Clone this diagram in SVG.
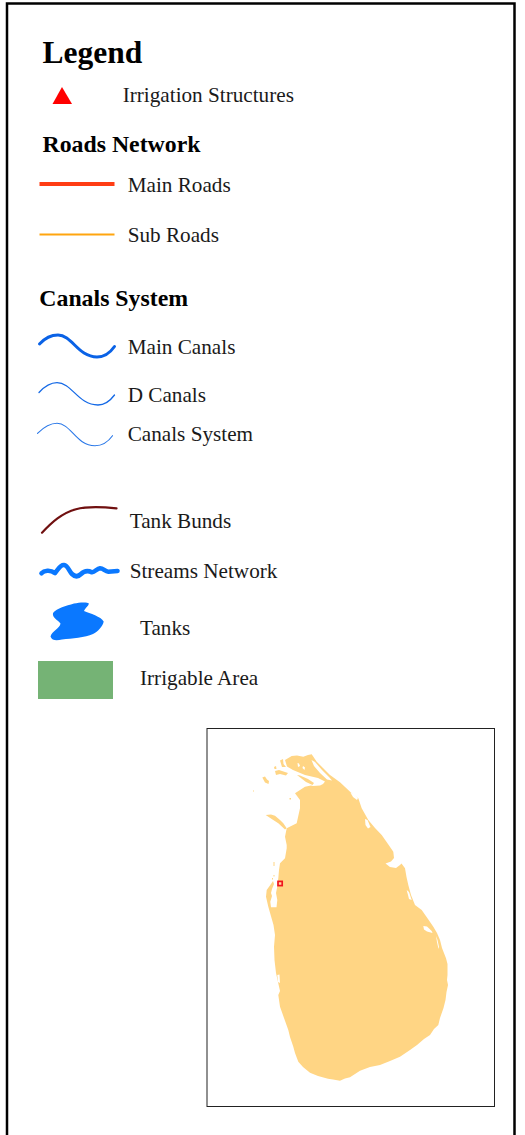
<svg xmlns="http://www.w3.org/2000/svg" width="525" height="1135" viewBox="0 0 525 1135">
<style>
text{font-family:"Liberation Serif","Times New Roman",serif;font-size:21.200px;fill:#1a1a1a}
.h{font-weight:bold;fill:#000;font-size:23.800px}
.l{fill:none;stroke-linecap:round;stroke-linejoin:round}
.land{fill:#ffd584}
.hole{fill:#fff}
</style>
<rect width="525" height="1135" fill="#fff"/>
<path d="M7 1136V3.500H514.500V1136" fill="none" stroke="#000" stroke-width="2.500"/>
<g id="title"><text class="h" x="42.500" y="63" style="font-size:31.500px">Legend</text></g>
<g id="irrigation-structures"><path d="M52.500 104L62 87L72 104Z" fill="#f00"/><text x="122.700" y="102">Irrigation Structures</text></g>
<g id="roads-heading"><text class="h" x="42.500" y="152">Roads Network</text></g>
<g id="connectors">
<path id="main-roads-line" class="l" style="stroke-linecap:butt" d="M39.500 184H114.500" stroke="#ff3d14" stroke-width="4"/>
<path id="sub-roads-line" class="l" style="stroke-linecap:butt" d="M39.500 234.500H114.500" stroke="#ffa50f" stroke-width="2"/>
<path id="main-canals-line" class="l" d="M39.500 344C45 338 52 335 58 335C72 335 78 357 97 357C104 357 110 353 114.500 346.500" stroke="#0a62e6" stroke-width="3"/>
<path id="d-canals-line" class="l" d="M39 392.500C45 386 51 382.700 57 382.700C72 382.700 78 405 98 405C105 405 110 401 114.500 395" stroke="#1469e6" stroke-width="1.300"/>
<path id="canals-system-line" class="l" d="M37.500 433.300C44 427 50 423.300 57 423.300C71 423.300 76 445.700 95 445.700C102 445.700 108 442 112.500 435.700" stroke="#2a78e8" stroke-width="1.100"/>
<path id="tank-bunds-line" class="l" d="M42 532.700C52 522 62 513 76 509.200C88 506 103 507 116.500 508.300" stroke="#701010" stroke-width="2.200"/>
<path id="streams-line" class="l" d="M41.500 573.300C44 570.500 50 569.500 55 573C58 570 60 564.500 64 565C68 565.500 69 571 72 574C75 577 78 577 81 574C84 571 88 570.500 92 572.300C95 572 97 568.500 100 568.200C103 568 105 571.500 108.300 571.700L117.500 571" stroke="#0a78ff" stroke-width="4.600"/>
</g>
<g id="main-roads"><text x="127.700" y="192">Main Roads</text></g>
<g id="sub-roads"><text x="127.700" y="242">Sub Roads</text></g>
<g id="canals-heading"><text class="h" x="39.300" y="306">Canals System</text></g>
<g id="main-canals"><text x="127.700" y="354">Main Canals</text></g>
<g id="d-canals"><text x="127.700" y="402">D Canals</text></g>
<g id="canals-system"><text x="127.700" y="441">Canals System</text></g>
<g id="tank-bunds"><text x="129.700" y="528">Tank Bunds</text></g>
<g id="streams-network"><text x="129.700" y="578">Streams Network</text></g>
<g id="tanks"><path d="M53 613C57 608 66 606 74 603.500C80 602 88 602 89 603.500C88.500 606 84.500 608.500 84 611C90 613.500 101 616.500 103.700 621.500C103 626 98 631.500 93 634C85 637.500 72 638.500 62 639.500C57 640.500 52 641 50.500 636.500C52 631 60 628 60.500 623.500C58 620 52 618 53 613Z" fill="#0a78ff"/><text x="140" y="635">Tanks</text></g>
<g id="irrigable-area"><rect x="38" y="661" width="75" height="38" fill="#75b375"/><text x="140" y="685">Irrigable Area</text></g>
<g id="inset-map">
<rect x="207" y="728.500" width="287.500" height="378" fill="#fff" stroke="#222" stroke-width="1"/>
<path class="land" d="M285 760L291.700 756L297 755.500L303.300 756.700L308 755L311.700 754.300L316.700 761.700L323 768L330 775L340 782.300L351.700 793.300L358.300 798.300L361.700 808.300L368.300 820L375 828L381.700 835L388 844L393.300 851.700L394 858L391 861.500L385.500 863.500L390 867L396 868L400 865L401.500 863.500L405 868.300L406.500 877L408.300 885L411 895L415 905L419 908L421.700 910L428 919L433.300 926.700L437 933L440 940L442 948L446 958.300L447.500 964L447.500 975L447 980L448 985L446.500 992L445.500 1000L443.500 1008L440 1018L438.300 1025L434 1029L430 1035L424 1039L417 1045L410 1050L400 1056.700L390 1061L380 1065L370 1067L360 1070.700L355 1074L350 1077.300L345 1078.500L340 1080.700L333 1079.500L328 1078.700L318 1076L310 1072.700L303 1067L298.300 1061.700L295 1053L293.300 1046.700L290 1037L288.300 1030L284 1018L280 1006.700L278.300 995L280 991L278 982L276 973L274.500 960L274 946.700L275 935L273.500 925L268.300 906.700L266 896.700L266.700 890L271 884L273 881L274 884L272 889L271 893L272 896L270.300 901.700L271 907.300L276.500 907.300L277.300 900L276 893L277 888L278.300 878.300L279 870L280 863.300L285 858.300L286.700 848.300L286.700 845L285 836.700L286.700 828.300L296.700 823.300L298.500 815L300 808.300L300 800L295 793.300L305 786.700L311 785.500L313 786L320 785.500L323 784L325 781.500L318 778L305 775L293 770L287 766.500Z"/>
<path class="land" d="M265.700 815L271 814.500L275 815.700L280 820L283.300 823.300L286.700 828.300L285 829.500L278.300 823.300L271.700 819Z"/>
<path class="land" d="M262.300 777.500L265 776.500L267 779.500L269 781L268.500 784L265 782.500Z"/>
<path class="land" d="M275 771L279 770L282 771L288 773L286 775.500L280 774L276 775Z"/>
<path class="land" d="M280 760.500L283 759L283.500 764L286 767L282 767Z"/>
<path class="land" d="M274 767L276 766L276.500 769L274.500 769Z"/>
<path class="land" d="M297 775L300 775.500L308 779L314 783L312.500 785L306 782Z"/>
<rect class="land" x="253" y="790.500" width="1" height="1"/>
<rect class="land" x="289.500" y="798" width="1.500" height="1.500"/>
<rect class="land" x="273.500" y="862" width="1" height="4"/>
<rect class="land" x="273.500" y="875" width="1" height="1.500"/>
<rect class="land" x="272" y="878" width="1" height="1.500"/>
<path class="hole" d="M311.500 760L315 762L322 770L329 777L332 780.500L327 779.500L320 773L314 766Z"/>
<path class="hole" d="M297.500 763L299 763.500L300 766L298 767Z"/>
<path class="hole" d="M303 766L305 767.500L304.500 770L302.500 768Z"/>
<path class="hole" d="M350.500 792.700L354 794L358 798L357 800L353 797Z"/>
<path class="hole" d="M365 819L367.500 820L370.500 827L368 828.500L365.500 825Z"/>
<path class="hole" d="M406.700 890L409 892L411.700 900L409 899Z"/>
<path class="hole" d="M423.300 926L427 926.500L431.700 931L432.500 933L427 931.500L424 929.500Z"/>
<path class="hole" d="M436 936L437.500 940L439 947L438.500 949L437 942Z"/>
<path class="hole" d="M277.300 975L279.500 974.500L280 983L278 982Z"/>
<rect x="278" y="881.400" width="4.200" height="4.200" fill="#ffd9a0" stroke="#f0141e" stroke-width="1.700"/>
</g>
</svg>
